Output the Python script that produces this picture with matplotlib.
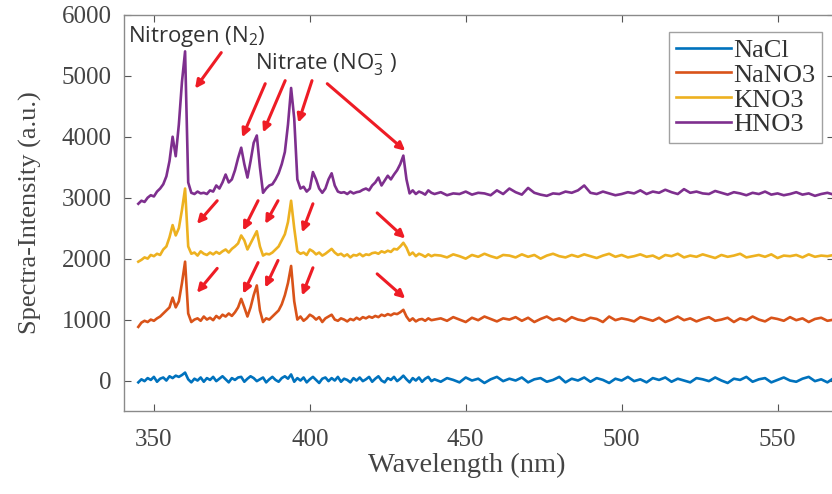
import numpy as np
import matplotlib
matplotlib.use('Agg')
import matplotlib.pyplot as plt

plt.rcParams['mathtext.fontset'] = 'custom'
plt.rcParams['mathtext.rm'] = 'Open Sans'
plt.rcParams['mathtext.it'] = 'Open Sans:italic'

# wavelength grid (nm): 1 nm steps over the peak region, 2 nm after
wl = np.concatenate([np.arange(345, 441, 1), np.arange(442, 571, 2)])

hno3 = [2900, 2950, 2930, 3000, 3040, 3020, 3100, 3150, 3220, 3350,
        3600, 4000, 3680, 4200, 4900, 5400, 3250, 3080, 3060, 3100,
        3070, 3080, 3060, 3120, 3100, 3200, 3150, 3250, 3380, 3250,
        3300, 3450, 3650, 3820, 3550, 3330, 3600, 3900, 4020, 3500,
        3080, 3150, 3200, 3220, 3300, 3400, 3550, 3750, 4200, 4800,
        4300, 3300, 3150, 3180, 3100, 3150, 3420, 3300, 3150, 3080,
        3150, 3300, 3400, 3200, 3100, 3080, 3090, 3060, 3100, 3070,
        3090, 3100, 3130, 3150, 3120, 3200, 3250, 3330, 3200, 3280,
        3360, 3300, 3380, 3450, 3550, 3690, 3300, 3070, 3120, 3060,
        3100, 3080, 3050, 3120, 3080, 3060,
        3090, 3040, 3070, 3060, 3100, 3050, 3080, 3070, 3040, 3120,
        3060, 3150, 3090, 3050, 3160, 3080, 3050, 3030, 3070, 3060,
        3100, 3080, 3120, 3200, 3080, 3060, 3100, 3070, 3040, 3060,
        3090, 3070, 3120, 3060, 3100, 3080, 3130, 3090, 3060, 3140,
        3080, 3100, 3070, 3060, 3110, 3080, 3050, 3090, 3070, 3040,
        3080, 3060, 3100, 3050, 3070, 3040, 3060, 3090, 3050, 3070,
        3030, 3060, 3080, 3050, 3060]

kno3 = [1950, 1980, 2020, 2000, 2060, 2040, 2080, 2060, 2150, 2200,
        2350, 2550, 2380, 2500, 2800, 3150, 2200, 2080, 2100, 2050,
        2120, 2080, 2060, 2100, 2070, 2110, 2080, 2120, 2150, 2100,
        2160, 2200, 2250, 2380, 2300, 2150, 2250, 2350, 2450, 2200,
        2050, 2080, 2070, 2100, 2150, 2200, 2300, 2400, 2600, 2950,
        2500, 2120, 2080, 2100, 2060, 2150, 2120, 2070, 2100, 2050,
        2080, 2120, 2160, 2100, 2060, 2080, 2040, 2070, 2020, 2060,
        2050, 2080, 2040, 2070, 2060, 2090, 2100, 2080, 2120, 2100,
        2130, 2110, 2160, 2150, 2200, 2260, 2180, 2060, 2100, 2040,
        2080, 2060, 2030, 2070, 2040, 2060,
        2050, 2020, 2070, 2040, 2000, 2060, 2030, 2080, 2040, 2010,
        2060, 2050, 2020, 2070, 2030, 2060, 2000, 2050, 2080, 2040,
        2020, 2060, 2030, 2070, 2040, 2010, 2050, 2080, 2030, 2060,
        2020, 2040, 2070, 2030, 2050, 2000, 2060, 2040, 2080, 2020,
        2050, 2030, 2070, 2040, 2010, 2060, 2030, 2050, 2080, 2020,
        2040, 2060, 2030, 2070, 2010, 2050, 2040, 2060, 2020, 2070,
        2030, 2050, 2040, 2060, 2030]

nano3 = [880, 950, 980, 960, 1000, 980, 1020, 1050, 1100, 1150,
         1200, 1360, 1200, 1300, 1600, 1950, 1100, 960, 1000, 1020,
         980, 1050, 1000, 1030, 990, 1060, 1020, 1080, 1050, 1100,
         1060, 1120, 1200, 1340, 1200, 1050, 1200, 1400, 1560, 1150,
         960, 1020, 1000, 1050, 1100, 1150, 1250, 1400, 1600, 1880,
         1300, 1000, 1050, 980, 1020, 1080, 1050, 1000, 1040, 960,
         1020, 1050, 1080, 1000, 980, 1020, 1000, 970, 1010, 990,
         1030, 1000, 1040, 1020, 1050, 1030, 1060, 1040, 1080, 1060,
         1090, 1070, 1100, 1090, 1120, 1160, 1050, 980, 1020, 970,
         1000, 1010, 980, 1020, 990, 1000,
         1020, 980, 1040, 1000, 960, 1030, 990, 1050, 1010, 970,
         1020, 1000, 1040, 980, 1030, 960, 1010, 1050, 990, 1020,
         970, 1040, 1000, 980, 1030, 1010, 960, 1050, 990, 1020,
         1000, 970, 1040, 1010, 980, 1030, 960, 1000, 1050, 990,
         1020, 970, 1010, 1040, 980, 1000, 1030, 960, 1020, 990,
         1050, 1000, 970, 1030, 1010, 980, 1040, 990, 1020, 960,
         1010, 1030, 980, 1000, 1020]

nacl = [-30, 20, -10, 40, 10, 60, -20, 30, 50, 0,
        70, 40, 80, 60, 90, 130, 20, -30, 30, 0,
        50, -20, 40, 10, 60, -10, 30, 70, 20, -30,
        40, 10, 50, 60, -20, 30, 70, 40, -10, 20,
        50, -30, 20, 60, 10, -20, 40, 70, 30, 100,
        -20, 40, 0, 50, -30, 20, 60, 10, -40, 30,
        50, -10, 40, 0, 60, -20, 30, 10, -30, 40,
        0, 50, -10, 20, 60, -20, 30, 70, 0, -30,
        40, 10, 60, -10, 30, 80, 20, -30, 40, 0,
        50, -20, 30, 60, -10, 20,
        -20, 40, 10, -30, 50, 0, 30, -40, 20, 60,
        -10, 30, 0, 50, -30, 20, 40, -20, 10, 60,
        -30, 30, 0, 50, -20, 40, 10, -40, 30, 0,
        60, -10, 20, -30, 40, 10, 50, -20, 30, 0,
        -30, 40, 20, -10, 50, 0, -40, 30, 10, 60,
        -20, 20, 40, -30, 10, 50, 0, -20, 30, 60,
        -10, 20, -30, 40, 0]

series = ['NaCl', 'NaNO3', 'KNO3', 'HNO3']
colors = ['#0072BD', '#D95319', '#EDB120', '#7E2F8E']

# arrows: (tail x, tail y, tip x, tip y)
arrows = [
    (371.6, 5380, 363.2, 4790), (385.7, 4870, 378.3, 3990),
    (392.1, 4920, 385.0, 4070), (400.7, 4920, 396.3, 4230),
    (405.6, 4870, 430.6, 3770),
    (370.3, 2950, 363.8, 2570), (383.4, 2950, 378.6, 2460),
    (389.8, 2950, 385.7, 2570), (401.0, 2900, 397.5, 2430),
    (421.6, 2750, 430.6, 2330),
    (370.3, 1840, 363.8, 1440), (383.4, 1935, 378.6, 1425),
    (389.8, 1970, 385.7, 1525), (401.0, 1850, 397.5, 1395),
    (421.6, 1750, 430.6, 1345),
]

serif = 'Liberation Serif'
gray = '#555555'

fig = plt.figure(figsize=(8.32, 4.94), dpi=100)
ax = fig.add_axes([0.149, 0.168, 0.853, 0.802])

for name, vals, c in zip(series, [nacl, nano3, kno3, hno3], colors):
    ax.plot(wl, vals, color=c, lw=1.9, label=name)

for tx, ty, hx, hy in arrows:
    ax.annotate('', xy=(hx, hy), xytext=(tx, ty),
                arrowprops=dict(arrowstyle='-|>', color='#EE1C25', lw=2.2,
                                mutation_scale=12, shrinkA=0, shrinkB=0))

ax.text(341.8, 5640, 'Nitrogen (N$_2$)', family=['Open Sans', 'DejaVu Sans'],
        fontsize=16, color='#333333', va='center')
ax.text(382.5, 5200, 'Nitrate (NO$_3^{-}$ )', family=['Open Sans', 'DejaVu Sans'],
        fontsize=16, color='#333333', va='center')

ax.set_xlim(340.4, 568)
ax.set_ylim(-500, 6000)
ax.set_xticks([350, 400, 450, 500, 550])
ax.set_yticks(range(0, 6001, 1000))
ax.tick_params(direction='in', top=True, right=True, length=5, color=gray,
               labelsize=18, labelcolor='#444444')
ax.tick_params(axis='x', pad=13)
ax.tick_params(axis='y', pad=9)
for lbl in ax.get_xticklabels() + ax.get_yticklabels():
    lbl.set_family(serif)
for sp in ax.spines.values():
    sp.set_color('#8a8a8a')
    sp.set_linewidth(1.0)

ax.set_xlabel('Wavelength (nm)', family=serif, fontsize=20.5, color='#444444')
ax.set_ylabel('Spectra-Intensity (a.u.)', family=serif, fontsize=19, color='#444444')
ax.xaxis.set_label_coords(0.483, -0.105)
ax.yaxis.set_label_coords(-0.115, 0.5)

leg = ax.legend(loc='upper right', bbox_to_anchor=(0.984, 0.957),
                prop={'family': serif, 'size': 19}, frameon=True, fancybox=False,
                handlelength=2.1, handletextpad=0.1, labelspacing=0.05,
                borderpad=0.25, borderaxespad=0)
leg.get_frame().set_edgecolor('#8a8a8a')
leg.get_frame().set_linewidth(1.0)
for t in leg.get_texts():
    t.set_color('#333333')

fig.savefig('out.png', dpi=100)
